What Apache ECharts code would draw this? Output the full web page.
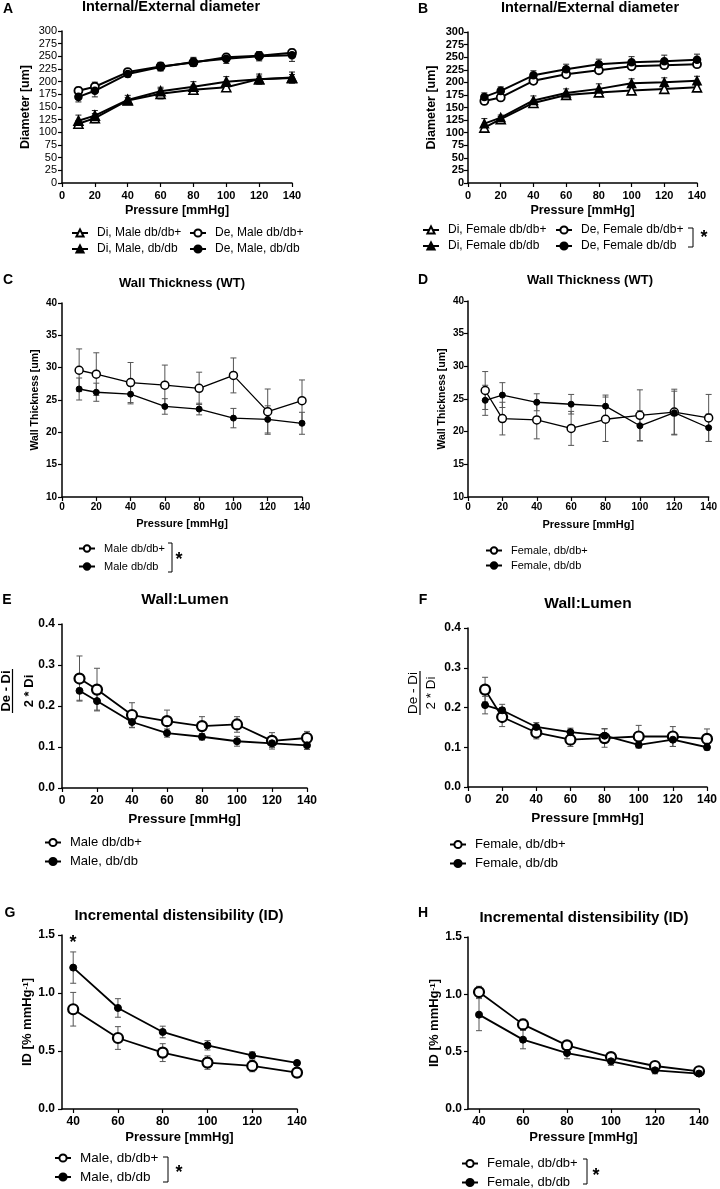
<!DOCTYPE html>
<html><head><meta charset="utf-8">
<script src="https://cdn.jsdelivr.net/npm/echarts@6/dist/echarts.min.js"></script>
<style>html,body{margin:0;padding:0;background:#fff}#c{width:720px;height:1189px}</style>
</head><body><div id="c"></div>
<script>
// ---------- DATA ----------
const pressure = [10, 20, 40, 60, 80, 100, 120, 140];
const pressureID = [40, 60, 80, 100, 120, 140];

// A: Internal/External diameter, male
const aDiCtrl = [117, 128, 163, 176, 184, 189, 205, 207];
const aDiCtrlErr = [6, 9, 6, 10, 9, 6, 6, 7];
const aDiDb = [123, 133, 164, 181, 190, 200, 205, 208];
const aDiDbErr = [11, 10, 9, 8, 10, 10, 10, 11];
const aDeCtrl = [182, 190, 219, 230, 238, 248, 251, 257];
const aDeCtrlErr = [7, 9, 6, 8, 8, 6, 8, 6];
const aDeDb = [170, 182, 215, 229, 239, 245, 250, 252];
const aDeDbErr = [10, 12, 6, 8, 9, 9, 9, 12];

// B: Internal/External diameter, female
const bDiCtrl = [110, 127, 159, 175, 180, 184, 187, 190];
const bDiCtrlErr = [5, 5, 5, 5, 5, 6, 6, 6];
const bDiDb = [118, 130, 164, 179, 187, 198, 200, 203];
const bDiDbErr = [10, 5, 9, 8, 10, 9, 9, 9];
const bDeCtrl = [163, 170, 203, 216, 224, 232, 234, 236];
const bDeCtrlErr = [5, 5, 6, 5, 5, 5, 6, 6];
const bDeDb = [171, 183, 214, 226, 236, 240, 242, 245];
const bDeDbErr = [8, 8, 9, 10, 10, 11, 12, 11];

// C: Wall thickness, male
const cCtrl = [29.6, 29.0, 27.7, 27.3, 26.8, 28.8, 23.2, 24.9];
const cCtrlErr = [3.3, 3.3, 3.1, 3.1, 2.5, 2.7, 3.5, 3.2];
const cDb = [26.7, 26.2, 25.9, 24.0, 23.6, 22.2, 22.0, 21.4];
const cDbErr = [1.7, 1.4, 1.5, 1.2, 0.9, 1.5, 2.1, 1.7];

// D: Wall thickness, female
const dCtrl = [26.3, 22.0, 21.8, 20.5, 21.9, 22.5, 23.0, 22.1];
const dCtrlErr = [2.9, 2.5, 2.9, 2.6, 3.4, 3.9, 3.5, 3.6];
const dDb = [24.8, 25.6, 24.5, 24.2, 23.9, 20.9, 22.9, 20.6];
const dDbErr = [2.3, 1.9, 1.3, 1.5, 1.7, 2.3, 3.3, 2.1];

// E: Wall:Lumen, male
const eCtrl = [0.267, 0.240, 0.178, 0.163, 0.151, 0.155, 0.115, 0.122];
const eCtrlErr = [0.055, 0.052, 0.030, 0.027, 0.023, 0.019, 0.020, 0.016];
const eDb = [0.237, 0.212, 0.161, 0.134, 0.125, 0.114, 0.109, 0.104];
const eDbErr = [0.023, 0.022, 0.014, 0.010, 0.008, 0.012, 0.010, 0.010];

// F: Wall:Lumen, female
const fCtrl = [0.245, 0.176, 0.137, 0.119, 0.123, 0.127, 0.127, 0.121];
const fCtrlErr = [0.031, 0.024, 0.016, 0.017, 0.023, 0.028, 0.025, 0.025];
const fDb = [0.206, 0.193, 0.151, 0.138, 0.129, 0.106, 0.119, 0.100];
const fDbErr = [0.022, 0.015, 0.011, 0.010, 0.018, 0.008, 0.017, 0.007];

// G: Incremental distensibility, male
const gCtrl = [0.86, 0.612, 0.486, 0.40, 0.371, 0.314];
const gCtrlErr = [0.145, 0.098, 0.077, 0.058, 0.05, 0.04];
const gDb = [1.219, 0.871, 0.664, 0.549, 0.463, 0.397];
const gDbErr = [0.135, 0.08, 0.05, 0.04, 0.03, 0.01];

// H: Incremental distensibility, female
const hCtrl = [1.02, 0.738, 0.555, 0.453, 0.375, 0.329];
const hCtrlErr = [0.05, 0.045, 0.02, 0.02, 0.015, 0.01];
const hDb = [0.823, 0.605, 0.488, 0.416, 0.337, 0.309];
const hDbErr = [0.14, 0.08, 0.05, 0.035, 0.03, 0.01];

// tick values
const idTicks = [40, 60, 80, 100, 120, 140];

// text
const panelTitles = ['Internal/External diameter', 'Internal/External diameter', 'Wall Thickness (WT)', 'Wall Thickness (WT)',
  'Wall:Lumen', 'Wall:Lumen', 'Incremental distensibility (ID)', 'Incremental distensibility (ID)'];
const panelLetters = ['A', 'B', 'C', 'D', 'E', 'F', 'G', 'H'];
const legA = ['Di, Male db/db+', 'Di, Male, db/db', 'De, Male db/db+', 'De, Male, db/db'];
const legB = ['Di, Female db/db+', 'Di, Female db/db', 'De, Female db/db+', 'De, Female db/db'];
const legC = ['Male db/db+', 'Male db/db'];
const legD = ['Female, db/db+', 'Female, db/db'];
const legE = ['Male db/db+', 'Male, db/db'];
const legF = ['Female, db/db+', 'Female, db/db'];
const legG = ['Male, db/db+', 'Male, db/db'];
const legH = ['Female, db/db+', 'Female, db/db'];

// ---------- BUILD ----------
const FF = '"Liberation Sans", Arial, Helvetica, sans-serif';
const grids = [
  {left: 62, top: 31, width: 230, height: 152},
  {left: 468, top: 32, width: 229, height: 151},
  {left: 62, top: 303, width: 240, height: 194},
  {left: 468, top: 301, width: 244, height: 196},
  {left: 62, top: 624, width: 245, height: 164},
  {left: 468, top: 628, width: 239, height: 159},
  {left: 62, top: 935, width: 235, height: 174},
  {left: 468, top: 937, width: 231, height: 172}
];

function xAx(gi, o) {
  return {
    type: 'value', gridIndex: gi, min: o.min, max: o.max, interval: o.interval,
    name: 'Pressure [mmHg]', nameLocation: 'middle', nameGap: o.nameGap,
    nameTextStyle: {fontFamily: FF, fontWeight: 'bold', fontSize: o.nameSize, color: '#000'},
    axisLine: {show: true, onZero: false, lineStyle: {color: '#000', width: 1.5}},
    axisTick: {show: true, length: 4, lineStyle: {color: '#000', width: 1.2}, customValues: o.custom},
    axisLabel: {fontFamily: FF, fontWeight: 'bold', fontSize: o.labelSize, color: '#000', margin: o.margin, customValues: o.custom},
    splitLine: {show: false}
  };
}
function yAx(gi, o) {
  return {
    type: 'value', gridIndex: gi, min: o.min, max: o.max, interval: o.interval,
    name: o.name || '', nameLocation: 'middle', nameGap: o.nameGap,
    nameTextStyle: {fontFamily: FF, fontWeight: 'bold', fontSize: o.nameSize, color: '#000',
      rich: {sup: {fontFamily: FF, fontWeight: 'bold', fontSize: 8, verticalAlign: 'top', color: '#000'}}},
    axisLine: {show: true, onZero: false, lineStyle: {color: '#000', width: 1.5}},
    axisTick: {show: true, length: 4, lineStyle: {color: '#000', width: 1.2}},
    axisLabel: {fontFamily: FF, fontWeight: o.labelWeight || 'bold', fontSize: o.labelSize, color: '#000', margin: o.margin,
      formatter: o.fmt},
    splitLine: {show: false}
  };
}
const f1 = v => v.toFixed(1);

const xAxes = [
  xAx(0, {min: 0, max: 140, interval: 20, nameGap: 21, nameSize: 12.5, labelSize: 11, margin: 7}),
  xAx(1, {min: 0, max: 140, interval: 20, nameGap: 21, nameSize: 12.5, labelSize: 11, margin: 7}),
  xAx(2, {min: 0, max: 140, interval: 20, nameGap: 21, nameSize: 11, labelSize: 10, margin: 5}),
  xAx(3, {min: 0, max: 140, interval: 20, nameGap: 22, nameSize: 11, labelSize: 10, margin: 5}),
  xAx(4, {min: 0, max: 140, interval: 20, nameGap: 24, nameSize: 13.5, labelSize: 12, margin: 7}),
  xAx(5, {min: 0, max: 140, interval: 20, nameGap: 24, nameSize: 13.5, labelSize: 12, margin: 7}),
  xAx(6, {min: 35, max: 140, nameGap: 22, nameSize: 13, labelSize: 12, margin: 7, custom: idTicks}),
  xAx(7, {min: 35, max: 140, nameGap: 22, nameSize: 13, labelSize: 12, margin: 7, custom: idTicks})
];
const yAxes = [
  yAx(0, {min: 0, max: 300, interval: 25, name: 'Diameter [um]', nameGap: 30, nameSize: 12.5, labelSize: 11, margin: 5, labelWeight: 'normal'}),
  yAx(1, {min: 0, max: 300, interval: 25, name: 'Diameter [um]', nameGap: 30, nameSize: 12.5, labelSize: 11, margin: 4}),
  yAx(2, {min: 10, max: 40, interval: 5, name: 'Wall Thickness [um]', nameGap: 21, nameSize: 10.5, labelSize: 10, margin: 5}),
  yAx(3, {min: 10, max: 40, interval: 5, name: 'Wall Thickness [um]', nameGap: 20, nameSize: 10.5, labelSize: 10, margin: 4}),
  yAx(4, {min: 0, max: 0.4, interval: 0.1, nameGap: 30, nameSize: 12, labelSize: 12, margin: 7, fmt: f1}),
  yAx(5, {min: 0, max: 0.4, interval: 0.1, nameGap: 30, nameSize: 12, labelSize: 12, margin: 7, fmt: f1}),
  yAx(6, {min: 0, max: 1.5, interval: 0.5, name: 'ID [% mmHg{sup|-1}]', nameGap: 24, nameSize: 13, labelSize: 12, margin: 7, fmt: f1}),
  yAx(7, {min: 0, max: 1.5, interval: 0.5, name: 'ID [% mmHg{sup|-1}]', nameGap: 24, nameSize: 13, labelSize: 12, margin: 6, fmt: f1})
];

const series = [];
function addLine(id, gi, xs, ys, es, sym, filled, size, lw, bw, errColor, cap) {
  series.push({
    type: 'custom', xAxisIndex: gi, yAxisIndex: gi, z: 2, silent: true, animation: false,
    data: xs.map((x, i) => [x, ys[i], es[i]]),
    renderItem: function (params, api) {
      const x = api.value(0), y = api.value(1), e = api.value(2);
      const t = api.coord([x, y + e]), b = api.coord([x, y - e]);
      const st = {stroke: errColor, lineWidth: 1};
      return {type: 'group', children: [
        {type: 'line', shape: {x1: t[0], y1: t[1], x2: b[0], y2: b[1]}, style: st},
        {type: 'line', shape: {x1: t[0] - cap, y1: t[1], x2: t[0] + cap, y2: t[1]}, style: st},
        {type: 'line', shape: {x1: b[0] - cap, y1: b[1], x2: b[0] + cap, y2: b[1]}, style: st}
      ]};
    }
  });
  series.push({
    type: 'line', name: id, xAxisIndex: gi, yAxisIndex: gi, z: 3, animation: false,
    data: xs.map((x, i) => [x, ys[i]]),
    symbol: sym, symbolSize: size, showAllSymbol: true,
    lineStyle: {color: '#000', width: lw},
    itemStyle: {color: filled ? '#000' : '#fff', borderColor: '#000', borderWidth: bw}
  });
}
// A
addLine('A0' + legA[0], 0, pressure, aDiCtrl, aDiCtrlErr, 'triangle', false, 9, 2, 1.6, '#222', 3);
addLine('A1' + legA[1], 0, pressure, aDiDb, aDiDbErr, 'triangle', true, 9, 2, 1.6, '#222', 3);
addLine('A2' + legA[2], 0, pressure, aDeCtrl, aDeCtrlErr, 'circle', false, 8, 2, 1.8, '#222', 3);
addLine('A3' + legA[3], 0, pressure, aDeDb, aDeDbErr, 'circle', true, 7, 2, 1.6, '#222', 3);
// B
addLine('B0' + legB[0], 1, pressure, bDiCtrl, bDiCtrlErr, 'triangle', false, 9, 2, 1.6, '#222', 3);
addLine('B1' + legB[1], 1, pressure, bDiDb, bDiDbErr, 'triangle', true, 8, 2, 1.6, '#222', 3);
addLine('B2' + legB[2], 1, pressure, bDeCtrl, bDeCtrlErr, 'circle', false, 8, 2, 1.8, '#222', 3);
addLine('B3' + legB[3], 1, pressure, bDeDb, bDeDbErr, 'circle', true, 7, 2, 1.6, '#222', 3);
// C
addLine('C0' + legC[0], 2, pressure, cCtrl, cCtrlErr, 'circle', false, 8, 1.3, 1.5, '#555', 3);
addLine('C1' + legC[1], 2, pressure, cDb, cDbErr, 'circle', true, 6, 1.3, 1, '#555', 3);
// D
addLine('D0' + legD[0], 3, pressure, dCtrl, dCtrlErr, 'circle', false, 8, 1.3, 1.5, '#555', 3);
addLine('D1' + legD[1], 3, pressure, dDb, dDbErr, 'circle', true, 6, 1.3, 1, '#555', 3);
// E
addLine('E0' + legE[0], 4, pressure, eCtrl, eCtrlErr, 'circle', false, 10, 1.8, 2.2, '#555', 3);
addLine('E1' + legE[1], 4, pressure, eDb, eDbErr, 'circle', true, 7, 1.8, 1, '#555', 3);
// F
addLine('F0' + legF[0], 5, pressure, fCtrl, fCtrlErr, 'circle', false, 10, 1.8, 2.2, '#555', 3);
addLine('F1' + legF[1], 5, pressure, fDb, fDbErr, 'circle', true, 7, 1.8, 1, '#555', 3);
// G
addLine('G0' + legG[0], 6, pressureID, gCtrl, gCtrlErr, 'circle', false, 10, 1.8, 2.2, '#555', 3);
addLine('G1' + legG[1], 6, pressureID, gDb, gDbErr, 'circle', true, 7, 1.8, 1, '#555', 3);
// H
addLine('H0' + legH[0], 7, pressureID, hCtrl, hCtrlErr, 'circle', false, 10, 1.8, 2.2, '#555', 3);
addLine('H1' + legH[1], 7, pressureID, hDb, hDbErr, 'circle', true, 7, 1.8, 1, '#555', 3);

function leg(prefix, labels, idxs, left, top, fontSize, gap, ih) {
  return {
    orient: 'vertical', left: left, top: top, padding: 0,
    data: idxs.map(i => prefix + i + labels[i]),
    formatter: n => n.slice(2),
    itemWidth: 16, itemHeight: ih, itemGap: gap, selectedMode: false,
    textStyle: {fontFamily: FF, fontSize: fontSize, color: '#000', padding: [0, 0, 0, 4]}
  };
}
const legends = [
  leg('A', legA, [0, 1], 71, 227, 12, 4, 9),
  leg('A', legA, [2, 3], 189, 227, 12, 4, 9),
  leg('B', legB, [0, 1], 422, 224, 12, 4, 9),
  leg('B', legB, [2, 3], 555, 224, 12, 4, 9),
  leg('C', legC, [0, 1], 78, 543, 11, 7, 8),
  leg('D', legD, [0, 1], 485, 545, 11, 4, 8),
  leg('E', legE, [0, 1], 44, 836, 13, 6, 9),
  leg('F', legF, [0, 1], 449, 838, 13, 6, 9),
  leg('G', legG, [0, 1], 54, 1151, 13.5, 5, 9),
  leg('H', legH, [0, 1], 461, 1157, 13, 6, 9)
];

function txt(text, x, y, size, weight, extra) {
  return Object.assign({type: 'text', x: x, y: y, silent: true,
    style: {text: text, fontFamily: FF, fontSize: size, fontWeight: weight || 'bold', fill: '#000', align: 'center', verticalAlign: 'middle'}}, extra || {});
}
const titlePos = [[171, 7, 14.5], [590, 8, 14.5], [182, 283, 13], [590, 280, 13], [185, 600, 15.5], [588, 604, 15.5], [179, 916, 15], [584, 918, 15]];
const letterPos = [[8, 9], [423, 9], [8, 280], [423, 280], [7, 600], [423, 600], [10, 913], [423, 913]];
const graphic = [];
panelTitles.forEach((t, i) => graphic.push(txt(t, titlePos[i][0], titlePos[i][1], titlePos[i][2])));
panelLetters.forEach((t, i) => graphic.push(txt(t, letterPos[i][0], letterPos[i][1], 14)));
function bracket(x0, x1, y0, y1) {
  return {type: 'polyline', silent: true, shape: {points: [[x0, y0], [x1, y0], [x1, y1], [x0, y1]]}, style: {stroke: '#000', lineWidth: 1, fill: null}};
}
graphic.push(bracket(688, 693, 228, 247), txt('*', 704, 238, 18));
graphic.push(bracket(168, 172, 543, 572), txt('*', 179, 560, 18));
graphic.push(bracket(163, 168, 1157, 1182), txt('*', 179, 1173, 18));
graphic.push(bracket(583, 587, 1159, 1184), txt('*', 596, 1176, 18));
graphic.push(txt('*', 73, 943, 18));
function fracLabel(cx, cy, size, weight, off, barOff, barHalf) {
  return {type: 'group', x: cx, y: cy, rotation: Math.PI / 2, silent: true, children: [
    {type: 'text', x: 0, y: -off, style: {text: 'De - Di', fontFamily: FF, fontSize: size, fontWeight: weight, fill: '#000', align: 'center', verticalAlign: 'middle'}},
    {type: 'line', shape: {x1: -barHalf, y1: barOff, x2: barHalf, y2: barOff}, style: {stroke: '#000', lineWidth: 1.2}},
    {type: 'text', x: 0, y: off, style: {text: '2 * Di', fontFamily: FF, fontSize: size, fontWeight: weight, fill: '#000', align: 'center', verticalAlign: 'middle'}}
  ]};
}
graphic.push(fracLabel(17.5, 691, 13, 'bold', 11.5, -5, 22));
graphic.push(fracLabel(422, 693, 13.5, 'normal', 9, -2, 22));

const chart = echarts.init(document.getElementById('c'), null, {renderer: 'canvas'});
chart.setOption({
  backgroundColor: '#fff',
  animation: false,
  grid: grids,
  xAxis: xAxes,
  yAxis: yAxes,
  legend: legends,
  series: series,
  graphic: graphic
});
</script></body></html>
